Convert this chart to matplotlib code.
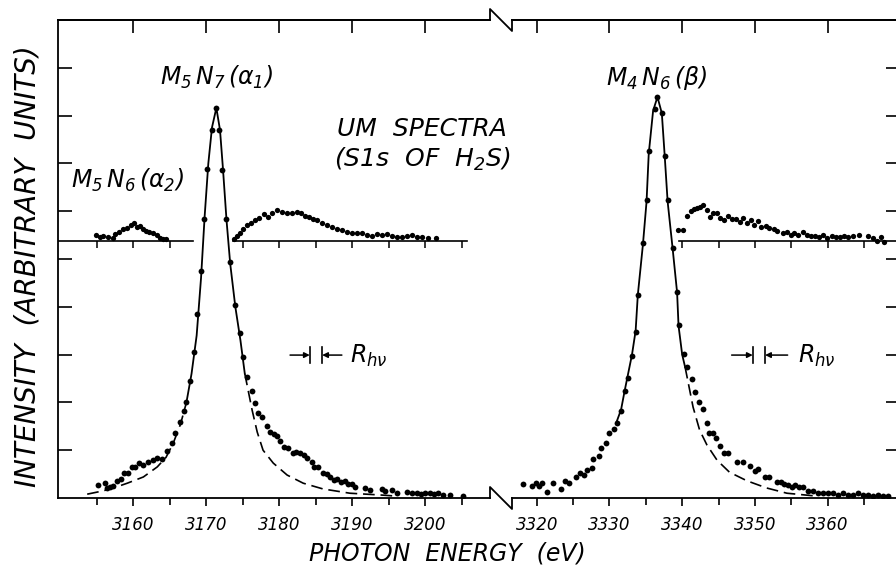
import matplotlib
matplotlib.use("Agg")
import matplotlib.pyplot as plt
from matplotlib.lines import Line2D

plt.rcParams['font.family'] = 'DejaVu Sans'
plt.rcParams['font.style'] = 'italic'
plt.rcParams['mathtext.fontset'] = 'dejavusans'
plt.rcParams['mathtext.default'] = 'it'

# ---------------- data (eV, arbitrary units) ----------------
# M5N7 (alpha1) peak, measured points
a1_x = [3155.2, 3156.2, 3156.4, 3156.8, 3157.3, 3157.8, 3158.4, 3158.8, 3159.3, 3159.9,
        3160.3, 3160.8, 3161.4, 3162.1, 3162.7, 3163.3, 3164.0, 3164.7, 3165.3, 3165.8,
        3166.4, 3167.0, 3167.3, 3167.8, 3168.3, 3168.8, 3169.3, 3169.7, 3170.1, 3170.8,
        3171.4, 3171.8, 3172.2, 3172.7, 3173.3, 3174.0, 3174.7, 3175.1, 3175.6, 3176.3,
        3176.7, 3177.1, 3177.7, 3178.4, 3178.8, 3179.3, 3179.7, 3180.1, 3180.7, 3181.2,
        3181.9, 3182.3, 3182.9, 3183.4, 3183.8, 3184.5, 3184.8, 3185.3, 3186.0, 3186.6,
        3187.0, 3187.5, 3187.9, 3188.5, 3189.0, 3189.5, 3190.0, 3190.4, 3191.8, 3192.5,
        3194.1, 3194.5, 3195.5, 3196.2, 3197.5, 3198.2, 3198.9, 3199.5, 3200.0, 3200.7,
        3201.2, 3201.8, 3202.5, 3203.4, 3205.2]
a1_y = [0.27, 0.31, 0.21, 0.23, 0.25, 0.36, 0.40, 0.52, 0.52, 0.65,
        0.65, 0.73, 0.69, 0.75, 0.79, 0.84, 0.82, 0.98, 1.15, 1.36,
        1.59, 1.82, 2.01, 2.45, 3.05, 3.85, 4.75, 5.83, 6.88, 7.70,
        8.16, 7.70, 6.86, 5.83, 4.94, 4.04, 3.45, 2.95, 2.53, 2.24,
        1.99, 1.78, 1.69, 1.51, 1.38, 1.34, 1.30, 1.19, 1.07, 1.05,
        0.94, 0.96, 0.94, 0.90, 0.84, 0.76, 0.65, 0.65, 0.52, 0.50,
        0.44, 0.38, 0.40, 0.33, 0.36, 0.29, 0.29, 0.23, 0.21, 0.17,
        0.19, 0.15, 0.17, 0.10, 0.13, 0.10, 0.10, 0.08, 0.10, 0.10,
        0.08, 0.10, 0.06, 0.06, 0.04]

# fitted line shape for alpha1
a1_fit_x = [3153.7, 3155.9, 3157.5, 3159.2, 3161.4, 3163.3, 3164.5, 3165.5, 3166.5, 3167.3,
            3168.0, 3168.7, 3169.3, 3169.8, 3170.3, 3170.8, 3171.4, 3171.9, 3172.3, 3172.8,
            3173.3, 3174.0, 3174.7, 3175.3, 3176.3, 3177.0, 3177.8, 3179.2, 3181.1, 3183.3,
            3186.0, 3189.7, 3194.2, 3196.0]
a1_fit_y = [0.08, 0.15, 0.22, 0.31, 0.44, 0.65, 0.85, 1.15, 1.55, 2.00,
            2.60, 3.40, 4.60, 5.90, 7.00, 7.75, 8.16, 7.70, 6.90, 5.80,
            4.90, 4.00, 3.30, 2.60, 1.84, 1.38, 1.00, 0.73, 0.48, 0.31,
            0.19, 0.10, 0.06, 0.04]
a1_core = (3167.3, 3175.3)

# M4N6 (beta) peak, measured points
b_x = [3318.1, 3319.3, 3319.9, 3320.3, 3320.7, 3321.4, 3322.2, 3323.3, 3323.9, 3324.4,
       3325.4, 3325.9, 3326.5, 3326.9, 3327.6, 3327.8, 3328.5, 3328.9, 3329.5, 3329.9,
       3330.6, 3331.0, 3331.6, 3332.1, 3332.5, 3333.1, 3333.6, 3333.9, 3334.6, 3335.1,
       3335.4, 3336.2, 3336.6, 3337.2, 3337.6, 3338.0, 3338.7, 3339.3, 3339.5, 3340.2,
       3340.6, 3341.3, 3341.7, 3342.3, 3342.8, 3343.4, 3343.7, 3344.2, 3344.6, 3345.2,
       3345.7, 3346.3, 3347.6, 3348.3, 3349.3, 3350.0, 3350.4, 3351.4, 3352.0, 3353.0,
       3353.6, 3354.0, 3354.5, 3355.1, 3355.5, 3356.0, 3356.6, 3357.3, 3358.0, 3358.7,
       3359.3, 3360.0, 3360.7, 3361.4, 3362.1, 3362.8, 3363.5, 3364.2, 3364.8, 3365.5,
       3366.2, 3366.9, 3367.6, 3368.3]
b_y = [0.29, 0.25, 0.31, 0.25, 0.31, 0.13, 0.31, 0.19, 0.36, 0.31,
       0.44, 0.52, 0.48, 0.59, 0.63, 0.82, 0.88, 1.05, 1.15, 1.36,
       1.44, 1.57, 1.82, 2.24, 2.51, 2.97, 3.47, 4.25, 5.33, 6.23,
       7.26, 8.14, 8.39, 8.05, 7.15, 6.23, 5.23, 4.31, 3.62, 3.01,
       2.74, 2.49, 2.22, 2.01, 1.86, 1.57, 1.36, 1.36, 1.26, 1.09,
       0.94, 0.94, 0.75, 0.75, 0.67, 0.56, 0.61, 0.44, 0.44, 0.33,
       0.33, 0.29, 0.27, 0.23, 0.27, 0.23, 0.23, 0.15, 0.15, 0.10,
       0.10, 0.10, 0.10, 0.06, 0.10, 0.06, 0.06, 0.10, 0.06, 0.06,
       0.04, 0.06, 0.04, 0.04]

b_fit_x = [3331.0, 3331.6, 3332.1, 3332.5, 3333.1, 3333.6, 3333.9, 3334.6, 3335.1, 3335.4,
           3336.0, 3336.6, 3337.2, 3337.6, 3338.0, 3338.7, 3339.3, 3339.5, 3340.0, 3340.4,
           3341.5, 3342.4, 3343.4, 3344.8, 3346.5, 3348.9, 3351.6, 3354.4, 3357.1, 3358.5]
b_fit_y = [1.60, 1.85, 2.25, 2.55, 3.00, 3.50, 4.25, 5.30, 6.20, 7.20,
           8.10, 8.39, 8.05, 7.15, 6.20, 5.20, 4.30, 3.60, 3.00, 2.74,
           1.90, 1.42, 1.11, 0.79, 0.54, 0.36, 0.21, 0.10, 0.06, 0.04]
b_core = (3331.0, 3340.4)

# magnified satellite structure (upper insets), drawn above a shifted baseline
ins_base = 5.38
a2_ins_x = [3154.9, 3155.5, 3155.9, 3156.6, 3157.3, 3157.5, 3158.1, 3158.6, 3159.2, 3159.7,
            3160.1, 3160.5, 3161.0, 3161.3, 3161.8, 3162.2, 3162.7, 3163.2, 3163.7, 3164.1,
            3164.5]
a2_ins_y = [5.50, 5.46, 5.48, 5.46, 5.44, 5.52, 5.56, 5.63, 5.65, 5.71,
            5.75, 5.67, 5.69, 5.63, 5.59, 5.56, 5.54, 5.50, 5.44, 5.42,
            5.42]
a1_ins_x = [3173.8, 3174.2, 3174.7, 3175.1, 3175.6, 3176.2, 3176.7, 3177.3, 3177.9, 3178.5,
            3179.0, 3179.7, 3180.4, 3181.1, 3181.8, 3182.5, 3183.0, 3183.6, 3184.1, 3184.7,
            3185.2, 3185.9, 3186.6, 3187.3, 3187.9, 3188.6, 3189.3, 3190.0, 3190.7, 3191.4,
            3192.1, 3192.7, 3193.4, 3194.1, 3194.8, 3195.5, 3196.2, 3196.8, 3197.5, 3198.2,
            3198.9, 3199.6, 3200.4, 3201.5]
a1_ins_y = [5.42, 5.48, 5.54, 5.63, 5.71, 5.75, 5.82, 5.86, 5.94, 5.88,
            5.96, 6.03, 5.98, 5.96, 5.96, 5.98, 5.96, 5.90, 5.88, 5.84,
            5.82, 5.75, 5.71, 5.67, 5.63, 5.61, 5.56, 5.54, 5.54, 5.54,
            5.50, 5.48, 5.52, 5.50, 5.52, 5.48, 5.46, 5.46, 5.48, 5.50,
            5.46, 5.46, 5.44, 5.44]
b_ins_x = [3339.4, 3340.1, 3340.6, 3341.2, 3341.6, 3342.0, 3342.4, 3342.8, 3343.4, 3343.8,
           3344.2, 3344.8, 3345.2, 3345.7, 3346.3, 3346.8, 3347.4, 3347.9, 3348.3, 3348.9,
           3349.4, 3349.9, 3350.4, 3350.9, 3351.5, 3352.0, 3352.6, 3353.1, 3353.8, 3354.4,
           3354.9, 3355.4, 3355.9, 3356.6, 3357.1, 3357.7, 3358.2, 3358.8, 3359.3, 3359.9,
           3360.6, 3361.1, 3361.7, 3362.2, 3362.8, 3363.5, 3364.3, 3365.5, 3366.2, 3366.8,
           3367.3, 3367.7]
b_ins_y = [5.61, 5.61, 5.90, 6.00, 6.05, 6.07, 6.09, 6.13, 6.03, 5.88,
           5.96, 5.96, 5.86, 5.82, 5.90, 5.84, 5.84, 5.77, 5.86, 5.75,
           5.82, 5.71, 5.80, 5.67, 5.69, 5.65, 5.63, 5.59, 5.54, 5.56,
           5.50, 5.54, 5.50, 5.56, 5.50, 5.48, 5.48, 5.46, 5.50, 5.44,
           5.48, 5.46, 5.46, 5.48, 5.46, 5.48, 5.50, 5.48, 5.44, 5.38,
           5.46, 5.36]

# inset baselines (x ranges) and their ticks
ins_left_segs = [(3149.7, 3168.2), (3173.7, 3205.8)]
ins_left_ticks = [3155, 3160, 3165, 3175, 3180, 3185, 3190, 3195, 3200, 3205]
ins_right_segs = [(3339.6, 3369.4)]
ins_right_ticks = [3340, 3345, 3350, 3355, 3360, 3365]

left_major = [3160, 3170, 3180, 3190, 3200]
left_minor = [3155, 3165, 3175, 3185, 3195, 3205]
right_major = [3320, 3330, 3340, 3350, 3360]
right_minor = [3325, 3335, 3345, 3355, 3365]
y_ticks = [1, 2, 3, 4, 5, 6, 7, 8, 9]

# ---------------- figure ----------------
W, H = 896, 565
fig = plt.figure(figsize=(W / 100, H / 100), dpi=100)


def fx(px):
    return px / W


def fy(py):
    return 1 - py / H


axL = fig.add_axes([fx(58), fy(498), fx(490) - fx(58), fy(20) - fy(498)])
axR = fig.add_axes([fx(512), fy(498), fx(896) - fx(512), fy(20) - fy(498)])
axL.set_xlim(3149.7, 3208.9)
axR.set_xlim(3316.6, 3369.4)

dash = (0, (7, 3.5))


def draw_peak(ax, x, y, fx_, fy_, core):
    inside = [(core[0] <= v <= core[1]) for v in fx_]
    cx = [v for v, k in zip(fx_, inside) if k]
    cy = [v for v, k in zip(fy_, inside) if k]
    lx = [v for v in fx_ if v <= core[0]]
    ly = [w for v, w in zip(fx_, fy_) if v <= core[0]]
    rx = [v for v in fx_ if v >= core[1]]
    ry = [w for v, w in zip(fx_, fy_) if v >= core[1]]
    ax.plot(cx, cy, color='k', lw=1.3)
    if len(lx) > 1:
        ax.plot(lx, ly, color='k', lw=1.2, linestyle=dash)
    ax.plot(rx, ry, color='k', lw=1.2, linestyle=dash)
    ax.plot(x, y, 'o', color='k', ms=4.2, mew=0)


draw_peak(axL, a1_x, a1_y, a1_fit_x, a1_fit_y, a1_core)
draw_peak(axR, b_x, b_y, b_fit_x, b_fit_y, b_core)

# insets
for ax, segs, ticks in [(axL, ins_left_segs, ins_left_ticks),
                        (axR, ins_right_segs, ins_right_ticks)]:
    for s in segs:
        ax.plot(list(s), [ins_base, ins_base], color='k', lw=1.2)
    ax.vlines(ticks, ins_base - 0.14, ins_base, color='k', lw=1.1)

axL.plot(a2_ins_x, a2_ins_y, 'o', color='k', ms=3.8, mew=0)
axL.plot(a1_ins_x, a1_ins_y, 'o', color='k', ms=3.8, mew=0)
axR.plot(b_ins_x, b_ins_y, 'o', color='k', ms=3.8, mew=0)

# axes styling
for ax, major, minor in [(axL, left_major, left_minor), (axR, right_major, right_minor)]:
    ax.set_ylim(0, 10)
    ax.set_xticks(major)
    ax.set_xticks(minor, minor=True)
    ax.tick_params(axis='x', which='major', direction='out', length=6, width=1.2,
                   labelsize=12, pad=7, top=False)
    ax.tick_params(axis='x', which='minor', direction='out', length=5, width=1.2, top=False)
    for sp in ax.spines.values():
        sp.set_linewidth(1.3)
    ax.spines['right'].set_visible(False)
    top = ax.secondary_xaxis('top')
    top.set_xticks(major)
    top.tick_params(direction='in', length=9, width=1.2, labeltop=False)
    top.spines['top'].set_linewidth(1.3)

axL.set_yticks(y_ticks)
axL.tick_params(axis='y', direction='in', length=10, width=1.2, labelleft=False)
axR.spines['left'].set_visible(False)
axR.set_yticks(y_ticks)
axR.yaxis.tick_right()
axR.tick_params(axis='y', direction='in', length=7, width=1.2, labelright=False)

# axis break marks
brk = dict(color='k', lw=1.3, transform=fig.transFigure, clip_on=False)
fig.add_artist(Line2D([fx(490), fx(490), fx(512), fx(512)],
                      [fy(20), fy(9), fy(31), fy(20)], **brk))
fig.add_artist(Line2D([fx(490), fx(490), fx(512), fx(512)],
                      [fy(498), fy(487), fy(509), fy(498)], **brk))

# labels
lab = dict(fontsize=17, ha='center', va='baseline')
axL.text(3171.4, 8.64, r'$M_5\,N_7\,(\alpha_1)$', **lab)
axL.text(3159.2, 6.49, r'$M_5\,N_6\,(\alpha_2)$', **lab)
axR.text(3336.5, 8.64, r'$M_4\,N_6\,(\beta)$', **lab)
axL.text(3199.6, 7.57, 'UM  SPECTRA', fontsize=18, ha='center', va='baseline')
axL.text(3199.6, 6.92, r'(S1s  OF  H$_2$S)', fontsize=18, ha='center', va='baseline')

for ax, a0, b1, b2, a3, rx in [(axL, 3181.5, 3184.2, 3185.9, 3188.6, 3189.7),
                               (axR, 3346.8, 3349.7, 3351.4, 3354.5, 3355.9)]:
    yc = 2.99
    ap = dict(arrowstyle='-|>', lw=1.1, color='k', shrinkA=0, shrinkB=0, mutation_scale=8)
    ax.annotate('', xy=(b1, yc), xytext=(a0, yc), arrowprops=ap)
    ax.annotate('', xy=(b2, yc), xytext=(a3, yc), arrowprops=ap)
    ax.plot([b1, b1], [yc - 0.17, yc + 0.17], color='k', lw=1.2)
    ax.plot([b2, b2], [yc - 0.17, yc + 0.17], color='k', lw=1.2)
    ax.text(rx, yc - 0.17, r'$R_{h\nu}$', fontsize=17, ha='left', va='baseline')

fig.text(fx(447), fy(561), 'PHOTON  ENERGY  (eV)', fontsize=17, ha='center', va='baseline')
fig.text(fx(28), fy(266), 'INTENSITY  (ARBITRARY  UNITS)', fontsize=20, rotation=90,
         ha='center', va='center')

fig.savefig('out.png', dpi=100)
